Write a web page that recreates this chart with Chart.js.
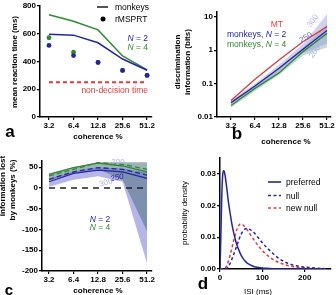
<!DOCTYPE html>
<html>
<head>
<meta charset="utf-8">
<script src="https://cdn.jsdelivr.net/npm/chart.js@4.4.1/dist/chart.umd.min.js"></script>
<style>
  body { margin: 0; width: 336px; height: 295px; position: relative; overflow: hidden; background: #fff;
         font-family: 'Liberation Sans', Arial, sans-serif; color: #000; }
  canvas { position: absolute; }
  .t { position: absolute; white-space: nowrap; font-size: 8.5px; line-height: 1; }
  .c { transform: translate(-50%, -50%); }
  .l { transform: translate(0, -50%); }
  .r { transform: translate(-100%, -50%); }
  .b { font-weight: bold; }
  .letter { font-size: 17px; font-weight: bold; }
  .blue { color: #2424a8; }
  .green { color: #2e8b2e; }
  .red { color: #e23a3a; }
  .lav { color: #b2b2e4; }
  svg { position: absolute; overflow: visible; }
</style>
</head>
<body>
<canvas id="chart-a" width="168" height="148" style="left:0;top:0"></canvas>
<canvas id="chart-b" width="168" height="148" style="left:168px;top:0"></canvas>
<canvas id="chart-c" width="168" height="147" style="left:0;top:148px"></canvas>
<canvas id="chart-d" width="168" height="147" style="left:168px;top:148px"></canvas>

<!-- panel a texts -->
<div class="t c b" style="left:15px;top:62px;transform:translate(-50%,-50%) rotate(-90deg);font-size:8px">mean reaction time (ms)</div>
<div class="t c b" style="left:98px;top:137px;font-size:8px">coherence %</div>
<div class="t c letter" style="left:10px;top:131px">a</div>
<svg style="left:0;top:0" width="1" height="1">
  <line x1="97" y1="7" x2="108" y2="7" stroke="#555" stroke-width="2"/>
  <circle cx="103" cy="19" r="2.5" fill="#000"/>
</svg>
<div class="t l" style="left:115px;top:7px">monkeys</div>
<div class="t l" style="left:115px;top:19px">rMSPRT</div>
<div class="t r blue" style="left:148px;top:38px"><i>N</i> = 2</div>
<div class="t r green" style="left:148px;top:47px"><i>N</i> = 4</div>
<div class="t r red" style="left:148px;top:90px">non-decision time</div>

<!-- panel b texts -->
<div class="t c b" style="left:183px;top:62px;transform:translate(-50%,-50%) rotate(-90deg);font-size:8px;text-align:center;line-height:1.2">discrimination<br>information (bits)</div>
<div class="t c b" style="left:286px;top:142px;font-size:8px">coherence %</div>
<div class="t c letter" style="left:237px;top:133px">b</div>
<div class="t r red" style="left:283px;top:24px">MT</div>
<div class="t l blue" style="left:227px;top:34px">monkeys, <i>N</i> = 2</div>
<div class="t l green" style="left:227px;top:44px">monkeys, <i>N</i> = 4</div>
<div class="t c lav" style="left:313px;top:21px;transform:translate(-50%,-50%) rotate(-55deg);font-size:8px">300</div>
<div class="t c" style="left:306px;top:38px;transform:translate(-50%,-50%) rotate(-30deg);font-size:8px;color:#6a6ad0">250</div>
<div class="t c lav" style="left:315px;top:52px;transform:translate(-50%,-50%) rotate(-55deg);font-size:8px">200</div>

<!-- panel c texts -->
<div class="t c b" style="left:3px;top:186px;transform:translate(-50%,-50%) rotate(-90deg);font-size:8px">information lost</div>
<div class="t c b" style="left:13px;top:190px;transform:translate(-50%,-50%) rotate(-90deg);font-size:8px">by monkeys (%)</div>
<div class="t c b" style="left:98px;top:291px;font-size:8px">coherence %</div>
<div class="t c letter" style="left:9px;top:289px;font-size:15px">c</div>
<div class="t c lav" style="left:118px;top:162px;font-size:8px">200</div>
<div class="t c blue" style="left:117px;top:178px;transform:translate(-50%,-50%) rotate(-10deg);font-size:8px;font-style:italic">250</div>
<div class="t c lav" style="left:106px;top:183px;transform:translate(-50%,-50%) rotate(-15deg);font-size:8px">300</div>
<div class="t c blue" style="left:100px;top:219px"><i>N</i> = 2</div>
<div class="t c green" style="left:100px;top:227px"><i>N</i> = 4</div>

<!-- panel d texts -->
<div class="t c" style="left:185px;top:213px;transform:translate(-50%,-50%) rotate(-90deg);font-size:8px">probability density</div>
<div class="t c" style="left:258px;top:292px;font-size:8px">ISI (ms)</div>
<div class="t c letter" style="left:203px;top:283px">d</div>
<svg style="left:0;top:0" width="1" height="1">
  <line x1="268" y1="182" x2="281" y2="182" stroke="#2424a8" stroke-width="1.6"/>
  <line x1="268" y1="195.5" x2="281" y2="195.5" stroke="#2424a8" stroke-width="1.6" stroke-dasharray="3,2.5"/>
  <line x1="268" y1="208" x2="281" y2="208" stroke="#e23a3a" stroke-width="1.6" stroke-dasharray="3,2.5"/>
</svg>
<div class="t l" style="left:286px;top:182px">preferred</div>
<div class="t l" style="left:286px;top:195.5px">null</div>
<div class="t l" style="left:286px;top:208px">new null</div>

<script>
// shared categories
const coherence = ['3.2', '6.4', '12.8', '25.6', '51.2'];

// a - mean reaction time (ms)
const rtMonkeysN2 = [597, 590, 535, 418, 337];
const rtMonkeysN4 = [737, 690, 628, 440, 340];
const rtModelN2 = [516, 443, 393, 336, 300];
const rtModelN4 = [571, 467, 393, 336, 300];
const nonDecisionTime = [250, 250, 250, 250, 250];
const rtTicks = [0, 200, 400, 600, 800];

// b - discrimination information (bits)
const infoMT = [0.031, 0.135, 0.51, 1.8, 5.1];
const infoN2 = [0.027, 0.085, 0.29, 1.07, 3.9];
const infoN4 = [0.022, 0.072, 0.21, 0.91, 3.2];
const infoBandN2Hi = [0.032, 0.1, 0.37, 1.55, 12];
const infoBandN2Lo = [0.024, 0.072, 0.23, 0.8, 1.6];
const infoBandN4Hi = [0.027, 0.086, 0.3, 1.2, 6];
const infoBandN4Lo = [0.019, 0.06, 0.18, 0.7, 1.2];
const infoTicks = [0.01, 0.1, 1, 10];

// c - information lost by monkeys (%)
const lostN2 = [15, 35, 43, 39, 23];
const lostN2Dashed = [21, 39, 49, 45, 31];
const lostN4 = [33, 49, 60, 53, 39];
const lostN4Dashed = [29, 45, 61, 57, 45];
const lostBandN2Hi = [22, 40, 50, 47, 38];
const lostBandN2Lo = [3, 20, 28, 15, -182];
const lostBandN4Hi = [35, 50, 62, 62, 62];
const lostBandN4Lo = [18, 35, 45, 20, -105];
const zeroLine = [0, 0, 0, 0, 0];
const lostTicks = [-200, -150, -100, -50, 0, 50];

// d - ISI densities
const isiMs = [0, 2, 4, 6, 8, 10, 12, 16, 20, 24, 28, 32, 36, 40, 45, 50, 55, 60, 65, 70,
  80, 90, 100, 110, 125, 140, 160, 180, 200, 225, 250];
const densPreferred = [0, 0.010, 0.022, 0.029, 0.031, 0.0308, 0.0295, 0.0255, 0.021, 0.0175, 0.0142,
  0.0116, 0.0094, 0.0076, 0.0058, 0.0043, 0.0032, 0.0024, 0.0018, 0.0014,
  0.0008, 0.0005, 0.0003, 0.0002, 0.0001, 0.00005, 0, 0, 0, 0, 0];
const densNull = [0, 0, 0, 0, 0, 0, 0, 0.0002, 0.0008, 0.0018, 0.0031, 0.0045, 0.006, 0.0075, 0.0094,
  0.011, 0.0121, 0.0127, 0.0128, 0.0125, 0.0115, 0.0099, 0.0083, 0.0068, 0.0049, 0.0032,
  0.0018, 0.001, 0.0006, 0.0003, 0.0001];
const densNewNull = [0, 0, 0, 0, 0, 0.0001, 0.0003, 0.001, 0.0025, 0.0045, 0.0066, 0.0088, 0.0108, 0.0125,
  0.0139, 0.0142, 0.0138, 0.0131, 0.0122, 0.0112, 0.0092, 0.0074, 0.0058, 0.0045, 0.003,
  0.002, 0.0011, 0.0006, 0.0003, 0.0001, 0];
const isiTicks = [0, 100, 200];
const densTicks = [0, 0.01, 0.02, 0.03];

const BLUE = '#2424a8';
const GREEN = '#2e8b2e';
const RED = '#e23a3a';
const tickFont = { family: "'Liberation Sans', Arial, sans-serif", size: 8, weight: 'bold' };

/**
 * Axis with outward tick marks and a solid black spine
 */
function axis(type, min, max, tickValues, label, size, isY) {
  return {
    type: type,
    min: min,
    max: max,
    border: { display: true, color: '#000', width: 1.5 },
    grid: { display: true, drawOnChartArea: false, drawTicks: true, tickLength: 3, color: '#000', lineWidth: 1.2 },
    ticks: { color: '#000', font: tickFont, padding: 1, maxRotation: 0, autoSkip: false, callback: label },
    afterBuildTicks: (s) => { s.ticks = tickValues.map((v) => ({ value: v })); },
    afterFit: (s) => { if (isY) s.width = size; else s.height = size; },
  };
}

function pts(values) {
  return values.map((v, i) => ({ x: i, y: v }));
}

function line(values, color, width, dash) {
  return { data: pts(values), borderColor: color, borderWidth: width, borderDash: dash || [],
    pointRadius: 0, fill: false, tension: 0 };
}

function band(hi, lo, color) {
  return [
    { data: pts(hi), borderWidth: 0, pointRadius: 0, fill: '+1', backgroundColor: color, tension: 0 },
    { data: pts(lo), borderWidth: 0, pointRadius: 0, fill: false, tension: 0 },
  ];
}

function baseOptions(x, y, padding) {
  return {
    responsive: false,
    animation: false,
    devicePixelRatio: 1,
    layout: { padding: padding },
    plugins: { legend: { display: false }, tooltip: { enabled: false } },
    scales: { x: x, y: y },
  };
}

const coherenceLabel = (v) => coherence[v];

// a
new Chart(document.getElementById('chart-a'), {
  type: 'line',
  data: {
    datasets: [
      Object.assign(line(rtModelN2, BLUE, 0), { showLine: false, pointRadius: 2.4, pointBackgroundColor: BLUE, pointBorderWidth: 0, order: 1 }),
      Object.assign(line(rtModelN4, GREEN, 0), { showLine: false, pointRadius: 2.4, pointBackgroundColor: GREEN, pointBorderWidth: 0, order: 2 }),
      Object.assign(line(rtMonkeysN2, BLUE, 1.5), { order: 3 }),
      Object.assign(line(rtMonkeysN4, GREEN, 1.5), { order: 4 }),
      Object.assign(line(nonDecisionTime, RED, 2, [4, 3]), { order: 5 }),
    ],
  },
  options: baseOptions(
    axis('linear', -0.367, 4.2, [0, 1, 2, 3, 4], coherenceLabel, 31, false),
    axis('linear', 0, 800, rtTicks, (v) => v, 40, true),
    { top: 6, right: 16, left: 0, bottom: 0 }
  ),
});

// b
new Chart(document.getElementById('chart-b'), {
  type: 'line',
  data: {
    datasets: [
      line(infoMT, RED, 1.3),
      line(infoN2, BLUE, 1.3),
      line(infoN4, GREEN, 1.3),
      ...band(infoBandN2Hi, infoBandN2Lo, 'rgba(150,150,220,0.45)'),
      ...band(infoBandN4Hi, infoBandN4Lo, 'rgba(90,150,140,0.35)'),
    ],
  },
  options: baseOptions(
    axis('linear', -0.583, 4.167, [0, 1, 2, 3, 4], coherenceLabel, 31, false),
    axis('logarithmic', 0.01, 14, infoTicks, (v) => String(v), 49, true),
    { top: 12, right: 5, left: 0, bottom: 0 }
  ),
});

// c
new Chart(document.getElementById('chart-c'), {
  type: 'line',
  data: {
    datasets: [
      line(lostN2, BLUE, 1.3),
      line(lostN2Dashed, BLUE, 1.3, [5, 3]),
      line(lostN4, GREEN, 1.3),
      line(lostN4Dashed, GREEN, 1.3, [5, 3]),
      line(zeroLine, '#222', 1.3, [6, 5]),
      ...band(lostBandN4Hi, lostBandN4Lo, 'rgba(80,115,125,0.55)'),
      ...band(lostBandN2Hi, lostBandN2Lo, 'rgba(150,150,225,0.7)'),
    ],
  },
  options: baseOptions(
    axis('linear', -0.286, 4.2, [0, 1, 2, 3, 4], coherenceLabel, 24, false),
    axis('linear', -200, 65, lostTicks, (v) => v, 42, true),
    { top: 13, right: 16, left: 0, bottom: 0 }
  ),
});

// d
const isiPts = (values) => values.map((v, i) => ({ x: isiMs[i], y: v }));
new Chart(document.getElementById('chart-d'), {
  type: 'line',
  data: {
    datasets: [
      { data: isiPts(densPreferred), borderColor: BLUE, borderWidth: 1.5, pointRadius: 0, cubicInterpolationMode: 'monotone' },
      { data: isiPts(densNull), borderColor: BLUE, borderWidth: 1.5, borderDash: [3, 2.5], pointRadius: 0, cubicInterpolationMode: 'monotone' },
      { data: isiPts(densNewNull), borderColor: RED, borderWidth: 1.5, borderDash: [3, 2.5], pointRadius: 0, cubicInterpolationMode: 'monotone' },
    ],
  },
  options: baseOptions(
    axis('linear', 0, 262, isiTicks, (v) => v, 26, false),
    axis('linear', 0, 0.035, densTicks, (v) => v.toFixed(2), 52, true),
    { top: 10, right: 5, left: 0, bottom: 0 }
  ),
});
</script>
</body>
</html>
